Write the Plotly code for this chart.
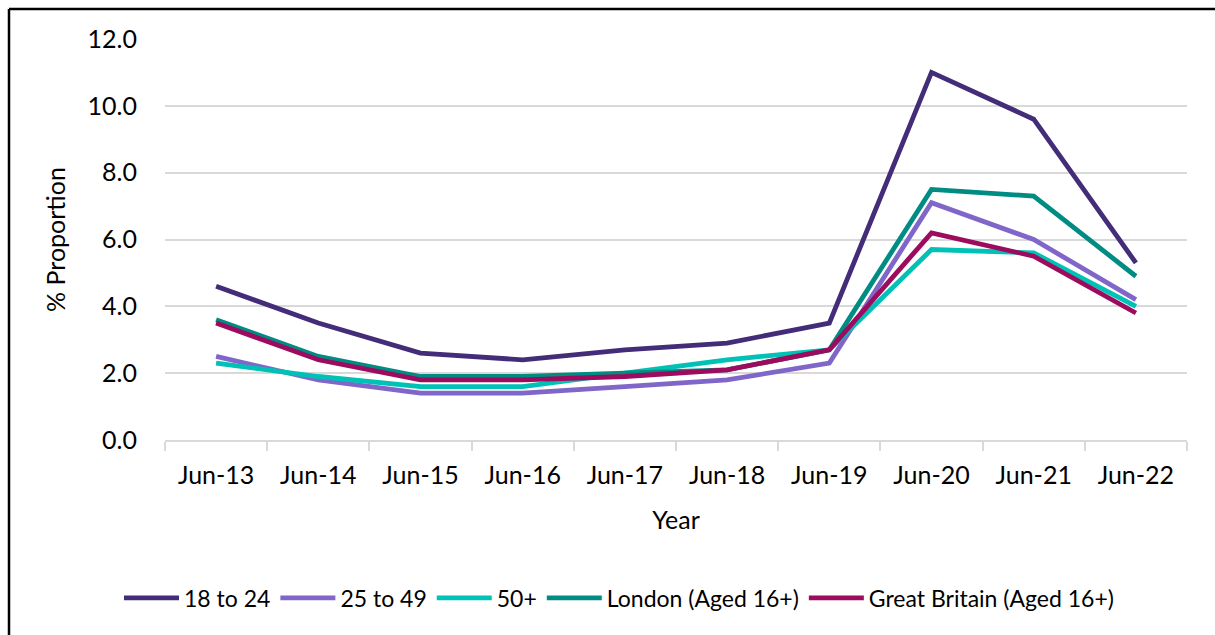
import plotly.graph_objects as go

# Categories (survey year) and series values, % proportion
years = ["Jun-13", "Jun-14", "Jun-15", "Jun-16", "Jun-17",
         "Jun-18", "Jun-19", "Jun-20", "Jun-21", "Jun-22"]

age_18_24 = [4.6, 3.5, 2.6, 2.4, 2.7, 2.9, 3.5, 11.0, 9.6, 5.3]
age_25_49 = [2.5, 1.8, 1.4, 1.4, 1.6, 1.8, 2.3, 7.1, 6.0, 4.2]
age_50_plus = [2.3, 1.9, 1.6, 1.6, 2.0, 2.4, 2.7, 5.7, 5.6, 4.0]
london_16 = [3.6, 2.5, 1.9, 1.9, 2.0, 2.1, 2.7, 7.5, 7.3, 4.9]
gb_16 = [3.5, 2.4, 1.8, 1.8, 1.9, 2.1, 2.7, 6.2, 5.5, 3.8]

series_names = ["18 to 24", "25 to 49", "50+",
                "London (Aged 16+)", "Great Britain (Aged 16+)"]
series_values = [age_18_24, age_25_49, age_50_plus, london_16, gb_16]
series_colors = ["#432C78", "#8066C8", "#00C1B5", "#008C82", "#9C0B5E"]

y_ticks = [0, 2, 4, 6, 8, 10, 12]

FONT = "Lato"
W, H = 1215, 635
L, R, T, B = 165, 28, 39, 195

fig = go.Figure()
for name, vals, col in zip(series_names, series_values, series_colors):
    fig.add_trace(go.Scatter(
        x=years, y=vals, name=name, mode="lines",
        line=dict(color=col, width=4.8),
    ))

# outer chart frame (left and top edges sit inside the page)
pw, ph = W - L - R, H - T - B
fx = (9 - L) / pw
fy = (H - B - 9) / ph
fig.add_shape(type="line", xref="paper", yref="paper",
              x0=fx, x1=fx, y0=fy, y1=-1.0,
              line=dict(color="black", width=2.5))
fig.add_shape(type="line", xref="paper", yref="paper",
              x0=fx, x1=1.2, y0=fy, y1=fy,
              line=dict(color="black", width=2.5))

fig.update_layout(
    width=W, height=H,
    margin=dict(l=L, r=R, t=T, b=B),
    paper_bgcolor="white", plot_bgcolor="white",
    font=dict(family=FONT, size=24, color="black"),
    showlegend=True,
    legend=dict(
        orientation="h", x=(619 - L) / pw, xanchor="center",
        y=(H - B - 598) / ph, yanchor="middle",
        font=dict(family=FONT, size=23, color="black"),
        itemwidth=55, tracegroupgap=0,
    ),
    xaxis=dict(
        type="category", range=[-0.5, 9.5],
        showgrid=False, showline=True, linecolor="#D9D9D9", linewidth=1.5,
        ticks="outside", tickson="boundaries", ticklen=9,
        tickcolor="#D9D9D9", tickwidth=1.5,
        tickfont=dict(family=FONT, size=25, color="black"),
        ticklabelstandoff=12,
        title=dict(text="Year", font=dict(family=FONT, size=25, color="black"),
                   standoff=24),
    ),
    yaxis=dict(
        range=[0, 12], tickvals=y_ticks, tickformat=".1f",
        showgrid=True, gridcolor="#D9D9D9", gridwidth=1.5,
        zeroline=False, showline=False, ticks="",
        tickfont=dict(family=FONT, size=25, color="black"),
        ticklabelstandoff=27,
        title=dict(text="% Proportion",
                   font=dict(family=FONT, size=25, color="black"),
                   standoff=14),
    ),
)

fig.write_html("out.html")
